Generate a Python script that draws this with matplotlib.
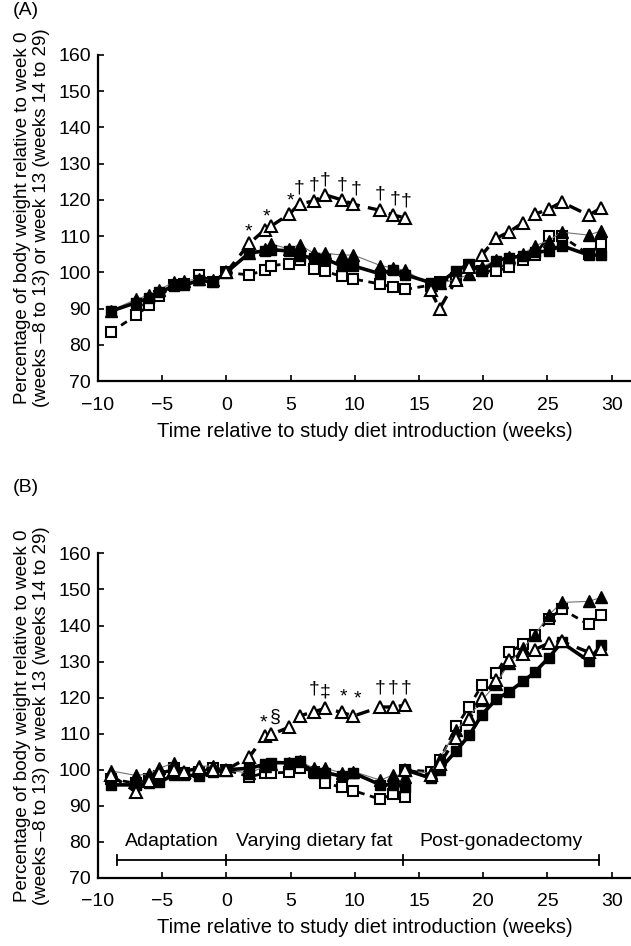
import matplotlib
matplotlib.use("Agg")
import matplotlib.pyplot as plt

plt.rcParams['font.family'] = ['Liberation Sans', 'DejaVu Sans']
plt.rcParams['font.size'] = 14

# weeks relative to diet introduction
weeks = [-9.0, -7.0, -6.0, -5.2, -4.1, -3.3, -2.1, -1.0, 0, 1.8, 3.0, 3.5, 4.9, 5.7,
         6.8, 7.7, 9.0, 9.9, 12.0, 13.0, 13.9, 15.9, 16.6, 17.9, 18.9, 19.9, 21.0,
         22.0, 23.1, 24.0, 25.1, 26.1, 28.2, 29.2]
weeks_pre = weeks[:21]
weeks_post = [13.9] + weeks[21:]

# panel A
a_fsq = [89.3, 91.7, 93.0, 94.5, 96.3, 96.5, 97.8, 97.4, 100, 105.4, 105.9, 106.3, 105.9, 104.6,
         104.0, 103.7, 101.8, 101.8, 99.6, 100.8, 99.4, 97.2, 97.1, 100.5, 102.3, 100.3, 103.2,
         104.1, 104.5, 105.6, 105.9, 107.4, 104.8, 104.8]
a_ftri = [89.5, 92.6, 93.8, 95.2, 97.4, 97.6, 98.3, 97.8, 100, 105.5, 106.5, 107.8, 106.5, 107.7,
          105.3, 105.3, 104.8, 104.8, 101.9, 101.2, 100.6, 96.5, 97.0, 98.1, 99.5, 101.5, 103.4,
          104.2, 105.0, 107.3, 108.8, 111.1, 110.3, 111.5]
a_osq = [83.5, 88.2, 91.0, 93.4, 96.5, 96.8, 99.2, 97.5, 100, 99.3, 100.7, 101.9, 102.4, 103.5,
         100.9, 100.3, 98.9, 98.2, 96.8, 95.9, 95.3, 96.5, 97.5, 98.5, 102.0, 100.5, 100.3,
         101.5, 103.5, 104.7, 110.0, 110.0, 105.0, 107.8]
# open triangles: diet phase (weeks 0 to 13.9) and after surgery (15.9 on)
a_otri_pre = [100, 108.0, 111.8, 112.8, 116.1, 118.9, 119.7, 121.4, 120.0, 118.8,
              117.1, 115.8, 115.1]
a_otri_post = [95.1, 90.0, 98.0, 101.5, 104.9, 109.4, 111.2, 113.7, 116.0, 117.5, 119.4,
               115.8, 117.8]

# panel B, before and after gonadectomy
b_fsq_pre = [95.8, 95.8, 96.2, 96.5, 98.6, 98.6, 98.2, 99.5, 100, 100.4, 101.5, 102.0, 101.9, 102.3,
             99.1, 99.2, 98.2, 99.1, 95.8, 95.9, 95.3]
b_ftri_pre = [99.7, 98.4, 98.9, 100.4, 101.9, 99.1, 101.0, 101.0, 100, 99.0, 101.0, 101.5, 102.0,
              102.4, 100.4, 100.4, 99.1, 99.5, 97.1, 98.6, 98.0]
b_osq_pre = [97.5, 96.2, 97.5, 98.2, 100.6, 99.0, 99.5, 100.4, 100, 98.0, 99.1, 99.1, 99.3, 100.6,
             99.5, 96.3, 95.1, 94.2, 91.8, 93.3, 92.5]
b_otri_pre = [98.5, 93.8, 97.0, 99.0, 100.0, 99.5, 100.5, 100.0, 100, 103.6, 109.4, 109.8, 111.8,
              114.9, 116.1, 117.0, 115.9, 114.9, 117.4, 117.4, 117.9]
b_fsq_post = [100, 97.7, 100.0, 105.3, 109.5, 115.3, 119.5, 121.6, 124.5, 127.0, 131.1, 135.3,
              130.2, 134.7]
b_ftri_post = [100, 99.0, 103.0, 111.0, 114.7, 119.3, 123.8, 129.5, 133.8, 137.3, 142.9, 146.4,
               146.7, 147.8]
b_osq_post = [100, 99.5, 102.8, 112.0, 117.5, 123.5, 126.7, 132.6, 134.8, 137.5, 141.7, 144.6,
              140.3, 143.0]
b_otri_post = [100, 98.5, 101.5, 108.9, 114.0, 120.0, 125.0, 130.5, 132.0, 133.3, 135.1, 135.6,
               132.6, 133.6]

# significance marks: (week, height, symbol)
marks_a = [(1.7, 111.3, '*'), (3.1, 115.4, '*'), (4.97, 119.7, '*'), (5.7, 123.4, '†'),
           (6.8, 124.2, '†'), (7.7, 125.6, '†'), (9.0, 124.2, '†'), (10.1, 122.9, '†'),
           (12.0, 121.7, '†'), (13.1, 120.2, '†'), (13.96, 119.6, '†')]
marks_b = [(2.9, 112.9, '*'), (3.8, 114.5, '§'), (6.8, 122.3, '†'), (7.7, 121.6, '‡'),
           (9.1, 120.1, '*'), (10.2, 119.6, '*'), (11.96, 122.8, '†'), (13.0, 122.8, '†'),
           (14.0, 122.8, '†')]

phases = ['Adaptation', 'Varying dietary fat', 'Post-gonadectomy']
phase_edges = [-8.5, 0, 13.75, 29]

styles = {
    'fsq': dict(color='black', lw=2.6, marker='s', ms=7.5, mfc='black', mec='black', zorder=4),
    'ftri': dict(color='0.45', lw=0.8, marker='^', ms=8, mfc='black', mec='black', zorder=3),
    'osq': dict(color='black', lw=2.0, ls=(0, (2.5, 2)), marker='s', ms=7.5, mfc='white',
                mec='black', mew=1.5, zorder=2),
    'otri': dict(color='black', lw=2.4, ls=(0, (4, 2.5)), marker='^', ms=8.5, mfc='white',
                 mec='black', mew=1.5, zorder=5),
}

fig = plt.figure(figsize=(6.31, 9.46), dpi=100)
axA = fig.add_axes([0.155, 0.597, 0.845, 0.345])
axB = fig.add_axes([0.155, 0.072, 0.845, 0.343])

axA.plot(weeks, a_osq, **styles['osq'])
axA.plot(weeks, a_ftri, **styles['ftri'])
axA.plot(weeks, a_fsq, **styles['fsq'])
axA.plot(weeks[8:21], a_otri_pre, **styles['otri'])
axA.plot(weeks[21:], a_otri_post, **styles['otri'])
for x, y, s in marks_a:
    axA.text(x, y, s, ha='center', va='center', fontsize=14)

for xs, sets in [(weeks_pre, (b_osq_pre, b_ftri_pre, b_fsq_pre, b_otri_pre)),
                 (weeks_post, (b_osq_post, b_ftri_post, b_fsq_post, b_otri_post))]:
    for key, ys in zip(['osq', 'ftri', 'fsq', 'otri'], sets):
        axB.plot(xs, ys, **styles[key])
for x, y, s in marks_b:
    axB.text(x, y, s, ha='center', va='center', fontsize=14)

# study phase bar
axB.plot([phase_edges[0], phase_edges[-1]], [75, 75], color='black', lw=1.3)
for e in phase_edges:
    axB.plot([e, e], [73.6, 76.4], color='black', lw=1.3)
for i, name in enumerate(phases):
    axB.text((phase_edges[i] + phase_edges[i + 1]) / 2, 80, name, ha='center', va='center',
             fontsize=14)

for ax in (axA, axB):
    ax.set_xlim(-10, 31.5)
    ax.set_ylim(70, 160)
    ax.set_xticks(range(-10, 31, 5))
    ax.set_yticks(range(70, 161, 10))
    ax.spines['top'].set_visible(False)
    ax.spines['right'].set_visible(False)
    ax.spines['left'].set_linewidth(1.6)
    ax.spines['bottom'].set_linewidth(1.6)
    ax.tick_params(direction='in', length=4, width=1.2, labelsize=14)
    ax.tick_params(axis='x', pad=11)
    ax.tick_params(axis='y', pad=5)
    ax.set_xlabel('Time relative to study diet introduction (weeks)', fontsize=14.5, labelpad=6)
    ax.set_ylabel('Percentage of body weight relative to week 0\n'
                  '(weeks \u20138 to 13) or week 13 (weeks 14 to 29)', fontsize=13.5,
                  linespacing=1.15, labelpad=6)

fig.text(0.02, 0.989, '(A)', fontsize=14, ha='left', va='center')
fig.text(0.02, 0.485, '(B)', fontsize=14, ha='left', va='center')

fig.savefig('out.png', dpi=100)
